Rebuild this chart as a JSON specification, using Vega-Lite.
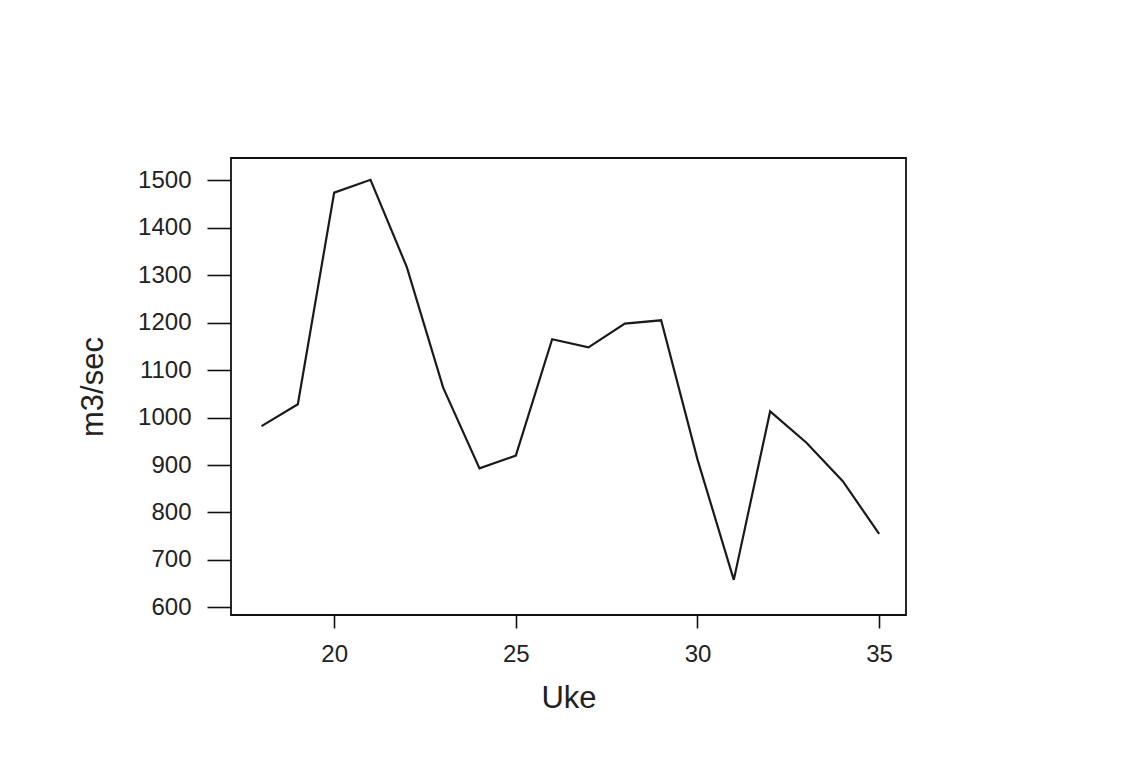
{
  "$schema": "https://vega.github.io/schema/vega-lite/v6.json",
  "autosize": {"type": "none"},
  "padding": {"left": 231, "top": 158, "right": 218, "bottom": 147},
  "width": 675,
  "height": 457,
  "background": "white",
  "config": {
    "view": {"stroke": "#111", "strokeWidth": 1.8},
    "font": "Liberation Sans",
    "axis": {
      "domain": false,
      "grid": false,
      "tickColor": "#111",
      "tickWidth": 1.6,
      "labelColor": "#222",
      "titleColor": "#222",
      "labelFont": "Liberation Sans",
      "titleFont": "Liberation Sans",
      "labelFontSize": 24,
      "titleFontSize": 31,
      "titleFontWeight": "normal"
    }
  },
  "data": {
    "values": [
      {"uke": 18, "m3sec": 982},
      {"uke": 19, "m3sec": 1028},
      {"uke": 20, "m3sec": 1474},
      {"uke": 21, "m3sec": 1501},
      {"uke": 22, "m3sec": 1317},
      {"uke": 23, "m3sec": 1063},
      {"uke": 24, "m3sec": 893},
      {"uke": 25, "m3sec": 920},
      {"uke": 26, "m3sec": 1165},
      {"uke": 27, "m3sec": 1148},
      {"uke": 28, "m3sec": 1198},
      {"uke": 29, "m3sec": 1205},
      {"uke": 30, "m3sec": 912},
      {"uke": 31, "m3sec": 658},
      {"uke": 32, "m3sec": 1013},
      {"uke": 33, "m3sec": 947},
      {"uke": 34, "m3sec": 866},
      {"uke": 35, "m3sec": 755}
    ]
  },
  "mark": {"type": "line", "color": "#1a1a1a", "strokeWidth": 2.2},
  "encoding": {
    "x": {
      "field": "uke",
      "type": "quantitative",
      "scale": {"domain": [17.16, 35.74], "nice": false, "zero": false},
      "axis": {
        "title": "Uke",
        "values": [20, 25, 30, 35],
        "format": "d",
        "tickSize": 13,
        "labelPadding": 14,
        "titlePadding": 17
      }
    },
    "y": {
      "field": "m3sec",
      "type": "quantitative",
      "scale": {"domain": [584, 1547], "nice": false, "zero": false},
      "axis": {
        "title": "m3/sec",
        "values": [600, 700, 800, 900, 1000, 1100, 1200, 1300, 1400, 1500],
        "format": "d",
        "tickSize": 24,
        "labelPadding": 16,
        "titlePadding": 28
      }
    }
  }
}
